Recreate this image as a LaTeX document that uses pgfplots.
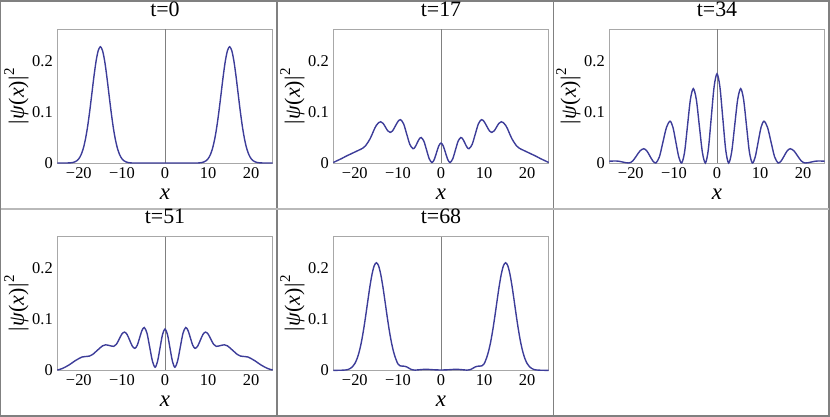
\documentclass[border=0pt]{standalone}
\usepackage{fontspec}
\setmainfont{Liberation Serif}
\usepackage{pgfplots}
\pgfplotsset{compat=1.18}

\definecolor{curve}{HTML}{3D3D99}
\definecolor{framegray}{HTML}{A8A8A8}
\definecolor{cellgray}{HTML}{808080}

\pgfplotsset{
  panel/.style={
    scale only axis, width=215.4bp, height=133.5bp,
    anchor=south west,
    xmin=-25, xmax=25, ymin=0, ymax=0.262,
    xtick={-20,-10,0,10,20}, xticklabels={−20,−10,0,10,20},
    ytick={0,0.1,0.2}, yticklabels={0,0.1,0.2},
    major tick length=0pt,
    axis line style={framegray, line width=0.6bp},
    tick label style={font=\fontsize{16.5}{16.5}\selectfont},
    xticklabel style={yshift=-1bp},
    yticklabel style={xshift=-1bp},
    title style={at={(0.5,1.105)}, anchor=center, font=\fontsize{22}{22}\selectfont},
    xlabel={\textit{x}},
    xlabel style={at={(axis description cs:0.5,-0.232)}, anchor=center, inner sep=0pt, font=\fontsize{23}{23}\selectfont},
    ylabel={|\kern0.04em\textit{ψ}(\textit{x})\kern0.04em|\raisebox{0.45em}{\fontsize{15}{15}\selectfont 2}},
    ylabel style={at={(axis description cs:-0.19,0.5)}, anchor=center, inner sep=0pt, font=\fontsize{22}{22}\selectfont},
    clip=false,
    execute at begin axis={\draw[cellgray, line width=0.6bp] (axis cs:0,0) -- (axis cs:0,0.262);},
  },
  psi/.style={curve, line width=1.4bp, smooth, mark=none},
}

\begin{document}
\begin{tikzpicture}
  \path[use as bounding box] (0,0) rectangle (830bp,417bp);
  \draw[cellgray, line width=1.2bp] (0.7bp,1bp) rectangle (829bp,416bp);
  \draw[cellgray, line width=1.2bp] (277bp,1bp) -- (277bp,416bp);
  \draw[cellgray, line width=1.2bp] (553.3bp,1bp) -- (553.3bp,416bp);
  \draw[gray!55, line width=1.2bp] (0.7bp,208bp) -- (829bp,208bp);

  % t=0
  \begin{axis}[panel, at={(57.3bp,254bp)}, title={t=0}]
    \addplot[psi] coordinates {(-25,0) (-23,0) (-22,0.0003) (-21.5,0.0008) (-21,0.0020) (-20.5,0.0042) (-20,0.0084) (-19.5,0.0158) (-19,0.0276) (-18.5,0.0453) (-18,0.0696) (-17.5,0.1000) (-17,0.1345) (-16.5,0.1695) (-16,0.1998) (-15.5,0.2206) (-15,0.228) (-14.5,0.2206) (-14,0.1998) (-13.5,0.1695) (-13,0.1345) (-12.5,0.1000) (-12,0.0696) (-11.5,0.0453) (-11,0.0276) (-10.5,0.0158) (-10,0.0084) (-9.5,0.0042) (-9,0.0020) (-8.5,0.0008) (-8,0.0003) (-7,0) (0,0) (7,0) (8,0.0003) (8.5,0.0008) (9,0.0020) (9.5,0.0042) (10,0.0084) (10.5,0.0158) (11,0.0276) (11.5,0.0453) (12,0.0696) (12.5,0.1000) (13,0.1345) (13.5,0.1695) (14,0.1998) (14.5,0.2206) (15,0.228) (15.5,0.2206) (16,0.1998) (16.5,0.1695) (17,0.1345) (17.5,0.1000) (18,0.0696) (18.5,0.0453) (19,0.0276) (19.5,0.0158) (20,0.0084) (20.5,0.0042) (21,0.0020) (21.5,0.0008) (22,0.0003) (23,0) (25,0)};
  \end{axis}

  % t=17
  \begin{axis}[panel, at={(333.3bp,254bp)}, title={t=17}]
    \addplot[psi] coordinates {(-25,0.001) (-24,0.005) (-23,0.009) (-22,0.0135) (-21,0.0175) (-20,0.0215) (-19,0.0255) (-18.5,0.0275) (-18,0.030) (-17.5,0.034) (-17,0.040) (-16.5,0.047) (-16,0.056) (-15.5,0.066) (-15,0.074) (-14.5,0.079) (-14,0.081) (-13.45,0.0779) (-12.9,0.0705) (-12.35,0.0631) (-11.8,0.060) (-11.2,0.0637) (-10.6,0.0725) (-10,0.0813) (-9.4,0.085) (-8.675,0.0767) (-7.95,0.0565) (-7.225,0.0363) (-6.5,0.028) (-6.025,0.0312) (-5.55,0.039) (-5.075,0.0468) (-4.6,0.050) (-3.975,0.0428) (-3.35,0.0255) (-2.725,0.0082) (-2.1,0.001) (-1.575,0.0066) (-1.05,0.020) (-0.525,0.0334) (0,0.039) (0.525,0.0334) (1.05,0.020) (1.575,0.0066) (2.1,0.001) (2.725,0.0082) (3.35,0.0255) (3.975,0.0428) (4.6,0.050) (5.075,0.0468) (5.55,0.039) (6.025,0.0312) (6.5,0.028) (7.225,0.0363) (7.95,0.0565) (8.675,0.0767) (9.4,0.085) (10,0.0813) (10.6,0.0725) (11.2,0.0637) (11.8,0.060) (12.35,0.0631) (12.9,0.0705) (13.45,0.0779) (14,0.081) (14.5,0.079) (15,0.074) (15.5,0.066) (16,0.056) (16.5,0.047) (17,0.040) (17.5,0.034) (18,0.030) (18.5,0.0275) (19,0.0255) (20,0.0215) (21,0.0175) (22,0.0135) (23,0.009) (24,0.005) (25,0.001)};
  \end{axis}

  % t=34
  \begin{axis}[panel, at={(609.3bp,254bp)}, title={t=34}]
    \addplot[psi] coordinates {(-25,0.0035) (-24.25,0.0038) (-23.5,0.004) (-22.725,0.0034) (-21.95,0.002) (-21.175,0.0006) (-20.4,0) (-19.55,0.0041) (-18.7,0.014) (-17.85,0.0239) (-17,0.028) (-16.3,0.0239) (-15.6,0.014) (-14.9,0.0041) (-14.2,0) (-13.375,0.012) (-12.55,0.041) (-11.725,0.070) (-10.9,0.082) (-10.225,0.070) (-9.55,0.041) (-8.875,0.012) (-8.2,0) (-7.525,0.0214) (-6.85,0.073) (-6.175,0.1246) (-5.5,0.146) (-4.8,0.1246) (-4.1,0.073) (-3.4,0.0214) (-2.7,0) (-2.025,0.0256) (-1.35,0.0875) (-0.675,0.1494) (0,0.175) (0.675,0.1494) (1.35,0.0875) (2.025,0.0256) (2.7,0) (3.4,0.0214) (4.1,0.073) (4.8,0.1246) (5.5,0.146) (6.175,0.1246) (6.85,0.073) (7.525,0.0214) (8.2,0) (8.875,0.012) (9.55,0.041) (10.225,0.070) (10.9,0.082) (11.725,0.070) (12.55,0.041) (13.375,0.012) (14.2,0) (14.9,0.0041) (15.6,0.014) (16.3,0.0239) (17,0.028) (17.85,0.0239) (18.7,0.014) (19.55,0.0041) (20.4,0) (21.175,0.0006) (21.95,0.002) (22.725,0.0034) (23.5,0.004) (24.25,0.0038) (25,0.0035)};
  \end{axis}

  % t=51
  \begin{axis}[panel, at={(57.3bp,46.7bp)}, title={t=51}]
    \addplot[psi] coordinates {(-25,0.0005) (-24,0.003) (-23,0.007) (-22,0.012) (-21,0.018) (-20,0.023) (-19.3,0.026) (-18.5,0.027) (-17.5,0.028) (-16.8,0.031) (-16,0.037) (-15.2,0.043) (-14.5,0.048) (-13.8,0.050) (-12.85,0.0485) (-11.9,0.047) (-11.275,0.0511) (-10.65,0.061) (-10.025,0.0709) (-9.4,0.075) (-8.8,0.0703) (-8.2,0.059) (-7.6,0.0477) (-7,0.043) (-6.45,0.049) (-5.9,0.0635) (-5.35,0.078) (-4.8,0.084) (-4.175,0.0727) (-3.55,0.0455) (-2.925,0.0183) (-2.3,0.006) (-1.725,0.0178) (-1.15,0.044) (-0.575,0.0702) (0,0.081) (0.575,0.0702) (1.15,0.044) (1.725,0.0178) (2.3,0.006) (2.925,0.0183) (3.55,0.0455) (4.175,0.0727) (4.8,0.084) (5.35,0.078) (5.9,0.0635) (6.45,0.049) (7,0.043) (7.6,0.0477) (8.2,0.059) (8.8,0.0703) (9.4,0.075) (10.025,0.0709) (10.65,0.061) (11.275,0.0511) (11.9,0.047) (12.85,0.0485) (13.8,0.050) (14.5,0.048) (15.2,0.043) (16,0.037) (16.8,0.031) (17.5,0.028) (18.5,0.027) (19.3,0.026) (20,0.023) (21,0.018) (22,0.012) (23,0.007) (24,0.003) (25,0.0005)};
  \end{axis}

  % t=68
  \begin{axis}[panel, at={(333.3bp,46.7bp)}, title={t=68}]
    \addplot[psi] coordinates {(-25,0) (-24,0) (-23,0.0002) (-22,0.0008) (-21.5,0.0018) (-21,0.0039) (-20.5,0.0074) (-20,0.0133) (-19.5,0.0225) (-19,0.036) (-18.5,0.0545) (-18,0.0781) (-17.5,0.1058) (-17,0.1356) (-16.5,0.1646) (-16,0.1889) (-15.5,0.2053) (-15,0.211) (-14.5,0.2053) (-14,0.1889) (-13.5,0.1646) (-13,0.1356) (-12.5,0.1058) (-12,0.0781) (-11.5,0.0545) (-11,0.036) (-10.5,0.0225) (-10,0.0125) (-9.5,0.0088) (-9,0.0082) (-8.5,0.008) (-8,0.0068) (-7.5,0.0045) (-7,0.002) (-6.5,0.0008) (-6,0.0004) (-5,0.0011) (-4,0.0018) (-3,0.0018) (-2,0.0012) (-1,0.0008) (0,0.0005) (1,0.0008) (2,0.0012) (3,0.0018) (4,0.0018) (5,0.0011) (6,0.0004) (6.5,0.0008) (7,0.002) (7.5,0.0045) (8,0.0068) (8.5,0.008) (9,0.0082) (9.5,0.0088) (10,0.0125) (10.5,0.0225) (11,0.036) (11.5,0.0545) (12,0.0781) (12.5,0.1058) (13,0.1356) (13.5,0.1646) (14,0.1889) (14.5,0.2053) (15,0.211) (15.5,0.2053) (16,0.1889) (16.5,0.1646) (17,0.1356) (17.5,0.1058) (18,0.0781) (18.5,0.0545) (19,0.036) (19.5,0.0225) (20,0.0133) (20.5,0.0074) (21,0.0039) (21.5,0.0018) (22,0.0008) (23,0.0002) (24,0) (25,0)};
  \end{axis}
\end{tikzpicture}
\end{document}
